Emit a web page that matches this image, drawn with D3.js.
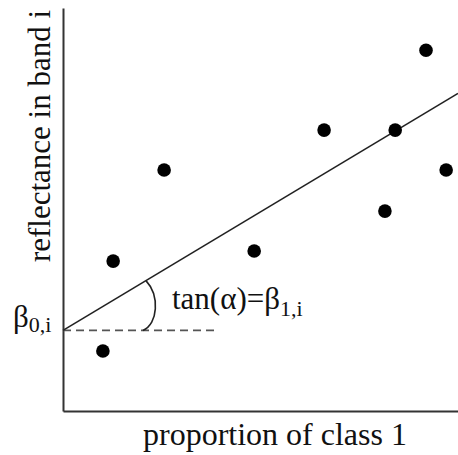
<!DOCTYPE html>
<html>
<head>
<meta charset="utf-8">
<script src="https://cdn.jsdelivr.net/npm/d3@7"></script>
<style>
  body { margin: 0; background: #fff; }
  svg { display: block; }
  text { font-family: "Liberation Serif", "DejaVu Serif", serif; fill: #111; }
</style>
</head>
<body>
<svg id="chart"></svg>
<script>
// sample points (proportion, reflectance)
const propX = [1.01, 1.27, 2.56, 4.84, 6.61, 8.15, 8.41, 9.19, 9.70];
const reflY = [1.49, 3.72, 5.98, 3.97, 6.97, 4.96, 6.97, 8.95, 5.98];

// fitted line
const beta0 = 2.0;
const beta1 = 0.588;

const xLabel = 'proportion of class 1';
const yLabel = 'reflectance in band i';

const width = 458;
const height = 455;

const x = d3.scaleLinear().domain([0, 10]).range([63, 458]);
const y = d3.scaleLinear().domain([0, 10]).range([411, 8]);

const svg = d3.select('#chart')
  .attr('width', width)
  .attr('height', height);

// axes, no ticks
svg.append('g')
  .attr('transform', `translate(0,${y(0)})`)
  .call(d3.axisBottom(x).ticks(0).tickSizeOuter(0))
  .call(g => g.select('.domain').attr('stroke', '#333').attr('stroke-width', 2));

svg.append('g')
  .attr('transform', `translate(${x(0)},0)`)
  .call(d3.axisLeft(y).ticks(0).tickSizeOuter(0))
  .call(g => g.select('.domain').attr('stroke', '#333').attr('stroke-width', 2));

// dashed horizontal at intercept
svg.append('line')
  .attr('x1', x(0)).attr('x2', x(3.9))
  .attr('y1', y(beta0)).attr('y2', y(beta0))
  .attr('stroke', '#555')
  .attr('stroke-width', 1.6)
  .attr('stroke-dasharray', '8,5');

// regression line
const line = d3.line().x(d => x(d)).y(d => y(beta0 + beta1 * d));
svg.append('path')
  .datum([0, 10])
  .attr('d', line)
  .attr('fill', 'none')
  .attr('stroke', '#222')
  .attr('stroke-width', 1.6);

// angle arc
const a0 = 2.1;
const p = d3.path();
p.moveTo(x(a0), y(beta0 + beta1 * a0));
p.bezierCurveTo(x(a0) + 14, y(beta0 + beta1 * a0) + 15,
                x(a0) + 12, y(beta0) - 6,
                x(a0) - 3, y(beta0));
svg.append('path')
  .attr('d', p.toString())
  .attr('fill', 'none')
  .attr('stroke', '#222')
  .attr('stroke-width', 1.6);

// points
svg.append('g')
  .selectAll('circle')
  .data(propX.map((d, i) => [d, reflY[i]]))
  .enter()
  .append('circle')
  .attr('cx', d => x(d[0]))
  .attr('cy', d => y(d[1]))
  .attr('r', 6.8)
  .attr('fill', '#000');

// labels
svg.append('text')
  .attr('x', 275)
  .attr('y', 445)
  .attr('text-anchor', 'middle')
  .attr('font-size', 32)
  .text(xLabel);

svg.append('text')
  .attr('transform', 'translate(50,136) rotate(-90)')
  .attr('text-anchor', 'middle')
  .attr('font-size', 31)
  .text(yLabel);

// beta0,i
const b0 = svg.append('text')
  .attr('x', 13)
  .attr('y', 327)
  .attr('font-size', 31);
b0.append('tspan').text('β');
b0.append('tspan').attr('font-size', 22).attr('dy', 5).text('0,i');

// tan(alpha)=beta1,i
const t = svg.append('text')
  .attr('x', 172)
  .attr('y', 309)
  .attr('font-size', 31);
t.append('tspan').text('tan(α)=β');
t.append('tspan').attr('font-size', 22).attr('dy', 7).text('1,i');
</script>
</body>
</html>
